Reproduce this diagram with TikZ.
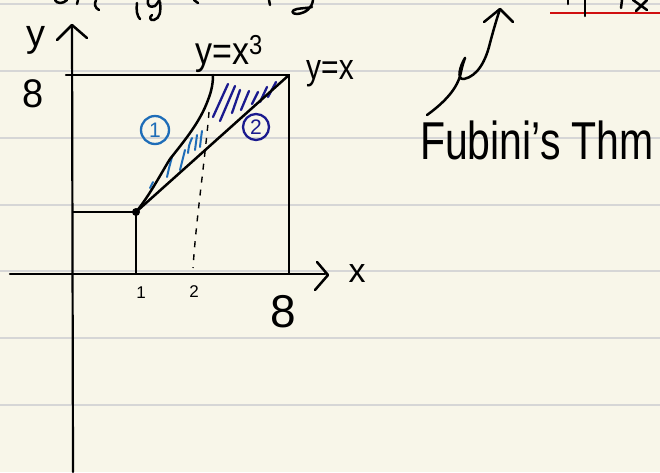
\documentclass[tikz,border=0pt]{standalone}
\usepackage{fontspec}
\setmainfont{Liberation Sans}
\definecolor{paper}{HTML}{F8F6E9}
\definecolor{rule}{HTML}{D6D6D6}
\definecolor{hblue}{HTML}{1E6DB8}
\definecolor{hnavy}{HTML}{1A1A8E}
\definecolor{redline}{HTML}{D01010}
\tikzset{
  ink/.style={line width=2.5pt, line cap=round, line join=round},
  axisline/.style={line width=2.2pt, line cap=round},
  hatchb/.style={hblue, line width=2pt, line cap=round},
  hatchn/.style={hnavy, line width=2.3pt, line cap=round},
  hand/.style={inner sep=0pt, anchor=center},
}
\begin{document}
\begin{tikzpicture}[x=1pt,y=-1pt]
\useasboundingbox (0,0) rectangle (660,472);
\fill[paper] (0,0) rectangle (660,472);
% ruled lines
\foreach \yy in {4,71,138,205,271,338,405} {\draw[rule, line width=1.4pt] (0,\yy) -- (660,\yy);}
\draw[redline, line width=2.2pt] (550,13) -- (660,13);

% top clipped handwriting fragments
\draw[ink] (55,0) .. controls (57,4) and (63,4) .. (67,0);
\draw[ink] (78,0) -- (77,4);
\draw[ink] (96,0) .. controls (94,4) and (95,8) .. (99,10);
\draw[ink] (137,3) .. controls (136,10) and (137,16) .. (140,19);
\draw[ink] (148,0) .. controls (147,6) and (150,8) .. (155,6) .. controls (158,3) and (159,0) .. (160,-1);
\draw[ink] (160,2) .. controls (161,12) and (160,18) .. (154,20) .. controls (150,21) and (149,17) .. (152,15);
\draw[ink] (194,0) -- (198,3);
\draw[ink] (269,0) -- (270,5);
\draw[ink] (313,0) .. controls (312,8) and (306,13) .. (297,14) .. controls (291,14) and (291,10) .. (297,9) .. controls (302,8) and (309,8) .. (312,7);
\draw[ink] (568,0) -- (568,4);
\draw[ink] (585,0) -- (585,16);
\draw[ink] (622,0) -- (621,8);
\draw[ink] (633,0) -- (647,10);
\draw[ink] (647,0) -- (636,11);

% key points
\coordinate (O) at (73,273);
\coordinate (Ytip) at (72,25);
\coordinate (Ybot) at (73,472);
\coordinate (Xl) at (10,274);
\coordinate (Xr) at (325,274);
\coordinate (P1) at (136,212);
\coordinate (P8) at (289,75);
\coordinate (C8) at (213,75);
\coordinate (TL) at (66,75);
\coordinate (BR) at (289,273);
\coordinate (L1) at (73,212);
\coordinate (B1) at (136,273);
\coordinate (D1) at (209,112);
\coordinate (D2) at (193,268);

% axes
\draw[axisline] (Ybot) -- (Ytip);
\draw[ink] (57,40) -- (Ytip) -- (87,38);
\draw[axisline] (Xl) -- (Xr);
\draw[ink] (317,262) -- (328,275) -- (315,290);

% square and unit square
\draw[ink] (TL) -- (P8) -- (BR);
\draw[ink] (L1) -- (P1) -- (B1);

% hatching lower (blue)
\draw[hatchb] (150,188) -- (153,182);
\draw[hatchb] (167,177) .. controls (169,168) .. (172,157);
\draw[hatchb] (180,170) .. controls (182,160) .. (185,150);
\draw[hatchb] (188,153) .. controls (189,145) .. (192,138);
\draw[hatchb] (195,150) .. controls (196,142) .. (197,135);
\draw[hatchb] (200,147) .. controls (201,138) .. (202,131);
% hatching upper (navy)
\draw[hatchn] (213,117) -- (228,84);
\draw[hatchn] (220,121) -- (235,86);
\draw[hatchn] (232,113) -- (240,90);
\draw[hatchn] (241,110) -- (249,91);
\draw[hatchn] (252,104) -- (258,92);
\draw[hatchn] (260,102) -- (267,87);
\draw[hatchn] (268,97) -- (276,82);

% curves
\draw[ink] (P1) -- (P8);
\draw[ink] (P1) .. controls (150,195) and (163,170) .. (170,159)
  .. controls (185,140) and (200,122) .. (208,100)
  .. controls (212,90) and (213,82) .. (C8);
\draw[line width=1.4pt, dash pattern=on 6pt off 7pt] (D1) .. controls (205,160) and (196,220) .. (D2);
\fill (P1) circle (4pt);

% labels
\node[hand, font=\fontsize{38}{38}\selectfont] (ylab) at (36,40) {y};
\node[hand, font=\fontsize{38}{38}\selectfont] (eight) at (33,94) {\scalebox{1}[1.05]{8}};
\node[hand, font=\fontsize{34}{34}\selectfont] (cube) at (229,54) {\scalebox{1}[1.15]{y=x\textsuperscript{3}}};
\node[hand, font=\fontsize{30}{30}\selectfont] (diag) at (330,74) {\scalebox{1}[1.2]{y=x}};
\node[hand, font=\fontsize{34}{34}\selectfont] (xlab) at (357,274) {x};
\node[hand, font=\fontsize{17}{17}\selectfont] (one) at (141,293) {1};
\node[hand, font=\fontsize{17}{17}\selectfont] (two) at (194,292) {2};
\node[hand, font=\fontsize{46}{46}\selectfont] (eightx) at (283,312) {8};
\node[hand, circle, draw=hblue, line width=2.3pt, text=hblue, minimum size=28pt, font=\fontsize{21}{21}\selectfont] (r1) at (155,130) {1};
\node[hand, circle, draw=hnavy, line width=2.3pt, text=hnavy, minimum size=26pt, font=\fontsize{21}{21}\selectfont] (r2) at (256,127) {2};
\node[hand, font=\fontsize{41}{41}\selectfont] (fub) at (537,140) {\scalebox{1}[1.3]{Fubini's Thm}};

% arrow to Fubini
\coordinate (Fs) at (427,115);
\coordinate (Ft) at (500,9);
\draw[ink] (Fs) .. controls (445,102) and (458,88) .. (461,72)
  .. controls (463,62) and (466,56) .. (465,58)
  .. controls (460,66) and (456,80) .. (464,79)
  .. controls (478,76) and (486,60) .. (490,43)
  .. controls (494,28) and (497,18) .. (Ft);
\draw[ink] (484,22) -- (Ft) -- (513,22);
\end{tikzpicture}
\end{document}
